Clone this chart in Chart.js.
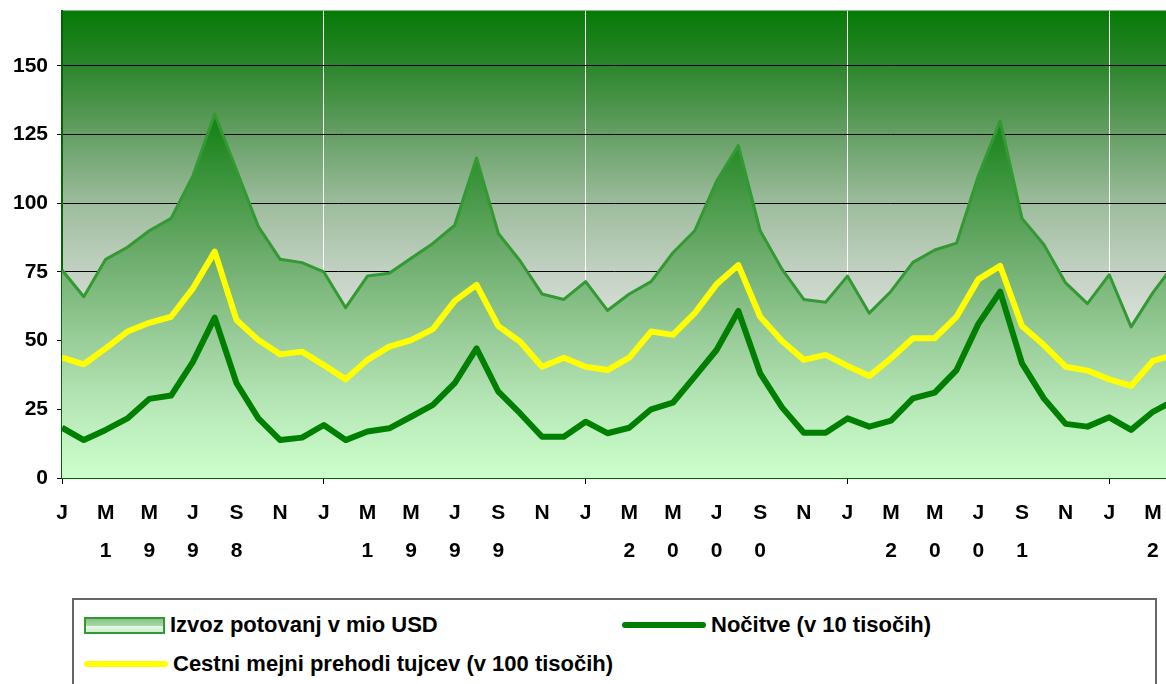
<!DOCTYPE html>
<html>
<head>
<meta charset="utf-8">
<script src="https://cdn.jsdelivr.net/npm/chart.js@4.4.1/dist/chart.umd.min.js"></script>
<style>
  html, body { margin:0; padding:0; background:#fff; overflow:hidden; }
  body { width:1166px; height:684px; position:relative; font-family:'Liberation Sans', Arial, sans-serif; }
  #wrap { position:absolute; left:0; top:0; width:1166px; height:596px; }
  #legend { position:absolute; left:72px; top:598px; width:1085px; height:120px; border:2px solid #666; box-sizing:border-box; }
  .item { position:absolute; display:flex; align-items:center; gap:5px; font-weight:bold; font-size:22px; color:#000; white-space:nowrap; transform:translateY(-50%); }
  .sw-area { width:77px; height:13px; border:2px solid #339933; background:linear-gradient(#86c486 0%, #a8d8a8 50%, #e8f8e8 55%, #cdeccd 100%); }
  .sw-line { width:84px; height:6px; border-radius:3px; }
</style>
</head>
<body>
<div id="wrap"><canvas id="chart"></canvas></div>
<div id="legend"></div>
<script>
'use strict';

const monthInitials = ['J','F','M','A','M','J','J','A','S','O','N','D'];
const years = ['1998','1999','2000','2001','2002'];
// Jan 1998 .. Apr 2002 (the last month runs past the right edge)
const categories = years.flatMap(y => monthInitials.map(m => m + ' ' + y)).slice(0, 52);
const yTicks = [0, 25, 50, 75, 100, 125, 150];

const izvoz = [75.7, 66, 79.6, 84, 90, 94.5, 110, 132.5, 112, 91.5, 79.6, 78.4,
               75, 62, 73.5, 74.5, 80, 85.4, 92, 116.5, 89, 79, 67, 65,
               71.5, 61, 67, 71.5, 82, 90, 108, 121, 90, 76, 65, 64,
               73.5, 60, 68, 78.5, 83, 85.5, 110, 130, 94.5, 85, 71, 63.5,
               74, 55, 67.5, 78];
const nocitve = [18.3, 13.8, 17.5, 21.7, 28.8, 30, 42.3, 58.4, 34.5, 21.7, 13.8, 14.7,
                 19.3, 13.8, 16.9, 18.1, 22.3, 26.6, 34.5, 47.2, 31.4, 23.5, 15, 15,
                 20.5, 16.3, 18.3, 25, 27.4, 36.9, 46.6, 60.8, 38.1, 25.7, 16.5, 16.5,
                 21.7, 18.7, 20.9, 29, 31.1, 39.3, 56.1, 67.8, 41.7, 29, 19.7, 18.7,
                 22.1, 17.5, 24.1, 28.3];
const prehodi = [43.8, 41.4, 47.2, 53.3, 56.5, 58.7, 69, 82.4, 57.5, 50.2, 45, 46,
                 41.1, 35.9, 43, 47.8, 50.2, 54.2, 64.5, 70.3, 55.3, 49.6, 40.5, 43.8,
                 40.5, 39.3, 43.8, 53.3, 52.1, 60, 70.5, 77.5, 58.7, 49.9, 43, 44.8,
                 40.8, 37.1, 43.6, 50.9, 50.9, 58.7, 72.3, 77.2, 55.3, 48.4, 40.5, 39.1,
                 35.9, 33.5, 42.6, 45];

const FONT = { family: "'Liberation Sans', Arial, sans-serif", size: 21, weight: 'bold' };
const pts = vals => vals.map((v, i) => ({ x: i, y: v }));

function vGradient(ctx, area, stops) {
  const g = ctx.createLinearGradient(0, area.top, 0, area.bottom);
  stops.forEach(([o, c]) => g.addColorStop(o, c));
  return g;
}

const plotBackground = {
  id: 'plotBackground',
  beforeDraw(chart) {
    const { ctx, chartArea: a } = chart;
    ctx.save();
    ctx.fillStyle = vGradient(ctx, a, [[0, '#067a06'], [0.12, '#2c862c'], [0.27, '#67a067'],
      [0.41, '#9cbc9c'], [0.56, '#c3d1c3'], [0.68, '#dde3dd'], [1, '#f4f4f4']]);
    ctx.fillRect(a.left, a.top, a.right - a.left, a.bottom - a.top);
    ctx.strokeStyle = '#7fc07f';
    ctx.lineWidth = 1;
    ctx.beginPath();
    ctx.moveTo(a.left, a.top - 0.5);
    ctx.lineTo(a.right, a.top - 0.5);
    ctx.stroke();
    ctx.restore();
  },
};

const datasets = [
  {
    label: 'Izvoz potovanj v mio USD',
    data: pts(izvoz),
    fill: 'origin',
    borderColor: '#339933',
    borderWidth: 3,
    backgroundColor: c => {
      const a = c.chart.chartArea;
      if (!a) return '#88c488';
      return vGradient(c.chart.ctx, a, [[0, '#007400'], [0.25, '#1a841a'], [0.5, '#66a866'],
        [0.7, '#98cc98'], [0.85, '#b8e8b8'], [1, '#ccffcc']]);
    },
    order: 3,
  },
  { label: 'Nočitve (v 10 tisočih)', data: pts(nocitve), borderColor: '#008000', borderWidth: 6, fill: false, order: 1 },
  { label: 'Cestni mejni prehodi tujcev (v 100 tisočih)', data: pts(prehodi), borderColor: '#ffff00', borderWidth: 6, fill: false, order: 2 },
];

const yearDigitPos = { 2: 0, 4: 1, 6: 2, 8: 3 };

new Chart(document.getElementById('chart'), {
  type: 'line',
  data: { datasets },
  plugins: [plotBackground],
  options: {
    responsive: true,
    maintainAspectRatio: false,
    animation: false,
    layout: { padding: { top: 11, left: 0, right: 0, bottom: 0 } },
    elements: { point: { radius: 0 }, line: { tension: 0, borderJoinStyle: 'round' } },
    plugins: { legend: { display: false }, tooltip: { enabled: false } },
    scales: {
      x: {
        type: 'linear',
        min: 0,
        max: 50.6,
        afterFit(s) { s.height = 118; s.paddingLeft = 0; s.paddingRight = 0; },
        border: { color: '#006400', width: 2 },
        grid: {
          color: c => (c.tick && c.tick.value > 0 && c.tick.value % 12 === 0) ? '#ffffff' : 'rgba(0,0,0,0)',
          tickColor: c => (c.tick && c.tick.value % 12 === 0) ? '#000' : 'rgba(0,0,0,0)',
          tickLength: 6,
          lineWidth: 1,
        },
        ticks: {
          stepSize: 2,
          autoSkip: false,
          maxRotation: 0,
          includeBounds: false,
          padding: 10,
          color: '#000',
          font: { ...FONT, lineHeight: 1.81 },
          callback(v) {
            const label = categories[v];
            if (!label) return '';
            const [m, y] = label.split(' ');
            const p = yearDigitPos[v % 12];
            return [m, p === undefined ? '' : y[p]];
          },
        },
      },
      y: {
        min: 0,
        max: 170,
        afterFit(s) { s.width = 62; s.paddingTop = 0; s.paddingBottom = 0; },
        afterBuildTicks(s) { s.ticks = yTicks.map(v => ({ value: v })); },
        border: { color: '#006400', width: 2 },
        grid: {
          color: c => (c.tick && c.tick.value > 0) ? '#000' : 'rgba(0,0,0,0)',
          tickColor: '#000',
          tickLength: 5,
          lineWidth: 1,
        },
        ticks: { color: '#000', font: FONT, padding: 9 },
      },
    },
  },
});

// legend box, laid out like the original
const legend = document.getElementById('legend');
const spots = [[10, 25], [548, 25], [10, 64]];
datasets.forEach((d, i) => {
  const item = document.createElement('div');
  item.className = 'item';
  item.style.left = spots[i][0] + 'px';
  item.style.top = spots[i][1] + 'px';
  const sw = document.createElement('span');
  if (d.fill) {
    sw.className = 'sw-area';
  } else {
    sw.className = 'sw-line';
    sw.style.background = d.borderColor;
  }
  item.appendChild(sw);
  item.appendChild(document.createTextNode(d.label));
  legend.appendChild(item);
});
</script>
</body>
</html>
